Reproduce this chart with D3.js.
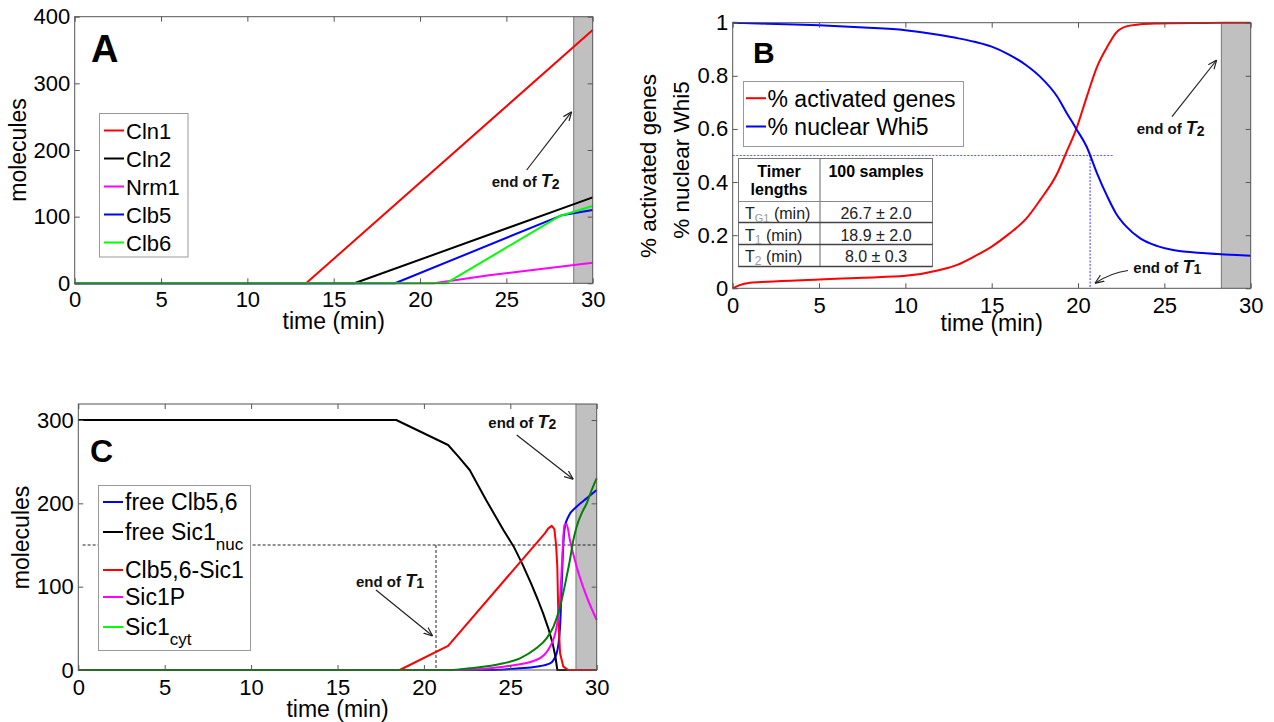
<!DOCTYPE html>
<html>
<head>
<meta charset="utf-8">
<title>Timer model panels A-C</title>
<style>
  body { margin: 0; background: #fff; }
  svg { display: block; font-family: "Liberation Sans", Arial, sans-serif; }
</style>
</head>
<body>
<script src="https://d3js.org/d3.v7.min.js"></script>
<svg width="1274" height="722"></svg>
<script>
// ---------- values ----------
const xTicks  = [0, 5, 10, 15, 20, 25, 30];
const yTicksA = [0, 100, 200, 300, 400];
const yTicksB = [0, 0.2, 0.4, 0.6, 0.8, 1];
const yTicksC = [0, 100, 200, 300];

// panel A (molecules)
const cln1T = [0, 13.4, 30],            cln1V = [0, 0, 380];
const cln2T = [0, 16.2, 30],            cln2V = [0, 0, 129];
const nrm1T = [0, 20.8, 24, 30],        nrm1V = [0, 0, 12, 31];
const clb5T = [0, 18.55, 28.2, 30],     clb5V = [0, 0, 102, 110];
const clb6T = [0, 21.5, 28.1, 30],      clb6V = [0, 0, 101, 116];

// panel B (fractions)
const timeB  = [0, 0.4, 1, 2, 5, 7.6, 10, 12, 13, 14, 15, 16, 17, 17.8, 18.8, 19.3, 19.9, 20.5, 21.1, 21.7, 22.2, 22.8, 23.6, 24.6, 25.5, 27.4, 30];
const genesB = [0, 0.012, 0.021, 0.025, 0.033, 0.04, 0.047, 0.069, 0.088, 0.12, 0.157, 0.205, 0.262, 0.332, 0.433, 0.508, 0.6, 0.72, 0.834, 0.91, 0.962, 0.986, 0.994, 0.997, 0.998, 0.999, 1.0];
const whi5B  = [1.0, 0.999, 0.998, 0.996, 0.99, 0.982, 0.972, 0.954, 0.942, 0.928, 0.91, 0.88, 0.84, 0.797, 0.721, 0.665, 0.6, 0.533, 0.433, 0.345, 0.282, 0.232, 0.188, 0.159, 0.144, 0.132, 0.123];

// panel C (molecules)
const fClbT  = [0, 24, 25.5, 26.5, 27.3, 27.68, 27.88, 27.97, 28.07, 28.16, 28.36, 28.84, 29.42, 30];
const fClbV  = [0, 0, 2, 4, 8, 20, 52, 100, 152, 172, 184, 196, 206, 216];
const fSicT  = [0, 18.4, 21.4, 22, 22.65, 23.1, 23.6, 24.1, 24.6, 25.2, 25.7, 26.2, 26.6, 26.9, 27.2, 27.45, 27.62, 27.72, 30];
const fSicV  = [300, 300, 270, 256, 240, 223, 204, 186, 168, 148, 127, 104, 84, 68, 50, 32, 15, 0, 0];
const cplxT  = [0, 18.6, 21.4, 27.0, 27.2, 27.4, 27.55, 27.65, 27.72, 27.78, 27.88, 28.07, 28.36, 30];
const cplxV  = [0, 0, 29, 164, 170, 173, 169, 150, 124, 64, 20, 4, 0, 0];
const sicPT  = [0, 22, 24.6, 26.5, 27.3, 27.68, 27.88, 28.03, 28.13, 28.26, 28.45, 28.84, 29.42, 30];
const sicPV  = [0, 0, 4, 12, 28, 52, 84, 144, 174, 175, 156, 124, 88, 60];
const cytT   = [0, 21.5, 22.65, 24.6, 25.56, 26.5, 27.1, 27.5, 27.88, 28.26, 28.45, 28.65, 28.84, 29.13, 29.42, 29.71, 30];
const cytV   = [0, 0, 2, 8, 14, 26, 38, 52, 76, 112, 132, 156, 172, 188, 200, 216, 230];

// table in panel B
const timerSubs  = ["G1", "1", "2"];
const timerMeans = ["26.7 \u00b1 2.0", "18.9 \u00b1 2.0", "8.0 \u00b1 0.3"];

// ---------- drawing ----------
const svg = d3.select("svg");
const FONT = '"Liberation Sans", Arial, sans-serif';

svg.append("defs").append("marker")
  .attr("id", "arr").attr("viewBox", "0 0 10 10")
  .attr("refX", 10).attr("refY", 5)
  .attr("markerWidth", 9).attr("markerHeight", 9)
  .attr("markerUnits", "userSpaceOnUse").attr("orient", "auto")
  .append("path").attr("d", "M0,1 L10,5 L0,9")
  .attr("fill", "none").attr("stroke", "#222").attr("stroke-width", 1.3);

function makePanel(l, r, b, t, yMax) {
  return {
    l, r, b, t,
    x: d3.scaleLinear().domain([0, 30]).range([l, r]),
    y: d3.scaleLinear().domain([0, yMax]).range([b, t])
  };
}

const pA = makePanel(74.7, 592.7, 283.3, 16.7, 400);
const pB = makePanel(732.7, 1250.7, 288.3, 22.7, 1);
const pC = makePanel(78.3, 596.7, 670, 404, 319.2);

function band(p, from) {
  svg.append("rect")
    .attr("x", p.x(from)).attr("y", p.t)
    .attr("width", p.x(30) - p.x(from)).attr("height", p.b - p.t)
    .attr("fill", "#c0c0c0");
  svg.append("line")
    .attr("x1", p.x(from)).attr("x2", p.x(from))
    .attr("y1", p.t).attr("y2", p.b)
    .attr("stroke", "#777").attr("stroke-width", 1);
}

function frame(p, yTicks, padX) {
  const fmt = d => String(d);
  const bottom = svg.append("g").attr("transform", "translate(0," + p.b + ")")
    .call(d3.axisBottom(p.x).tickValues(xTicks).tickSize(-5).tickSizeOuter(0).tickPadding(padX).tickFormat(fmt));
  const top = svg.append("g").attr("transform", "translate(0," + p.t + ")")
    .call(d3.axisTop(p.x).tickValues(xTicks).tickSize(-5).tickSizeOuter(0).tickFormat(""));
  const left = svg.append("g").attr("transform", "translate(" + p.l + ",0)")
    .call(d3.axisLeft(p.y).tickValues(yTicks).tickSize(-5).tickSizeOuter(0).tickPadding(4.5).tickFormat(fmt));
  const right = svg.append("g").attr("transform", "translate(" + p.r + ",0)")
    .call(d3.axisRight(p.y).tickValues(yTicks).tickSize(-5).tickSizeOuter(0).tickFormat(""));
  [bottom, top, left, right].forEach(g => {
    g.attr("font-family", FONT).attr("font-size", 22);
    g.select(".domain").remove();
    g.selectAll(".tick line").attr("stroke", "#555");
    g.selectAll(".tick text").attr("fill", "#000");
  });
  svg.append("rect")
    .attr("x", p.l).attr("y", p.t)
    .attr("width", p.r - p.l).attr("height", p.b - p.t)
    .attr("fill", "none").attr("stroke", "#555").attr("stroke-width", 1);
}

function series(p, T, V, color, curve) {
  const line = d3.line()
    .x((d, i) => p.x(T[i]))
    .y((d, i) => p.y(V[i]))
    .curve(curve || d3.curveLinear);
  svg.append("path").datum(V)
    .attr("d", line)
    .attr("fill", "none").attr("stroke", color)
    .attr("stroke-width", 2).attr("stroke-linejoin", "round");
}

function label(x, y, txt, size, opts) {
  opts = opts || {};
  const t = svg.append("text")
    .attr("font-size", size).attr("fill", "#000")
    .attr("text-anchor", opts.anchor || "start")
    .attr("font-weight", opts.bold ? "bold" : "normal");
  if (opts.rotate) t.attr("transform", "translate(" + x + "," + y + ") rotate(-90)");
  else t.attr("x", x).attr("y", y);
  t.text(txt);
  return t;
}

function endOf(x, y, sub) {
  const t = svg.append("text").attr("x", x).attr("y", y)
    .attr("font-weight", "bold").attr("font-size", 15).attr("fill", "#111");
  t.append("tspan").text("end of ");
  t.append("tspan").attr("font-style", "italic").attr("font-size", 18).text("T");
  t.append("tspan").attr("font-size", 14).attr("dy", 1.5).text(sub);
}

function arrow(x1, y1, x2, y2) {
  svg.append("line")
    .attr("x1", x1).attr("y1", y1).attr("x2", x2).attr("y2", y2)
    .attr("stroke", "#222").attr("stroke-width", 1.2)
    .attr("marker-end", "url(#arr)");
}

function legend(x, y, w, h) {
  svg.append("rect").attr("x", x).attr("y", y).attr("width", w).attr("height", h)
    .attr("fill", "#fff").attr("stroke", "#999").attr("stroke-width", 1);
}

function swatch(x1, x2, y, color) {
  svg.append("line").attr("x1", x1).attr("x2", x2).attr("y1", y).attr("y2", y)
    .attr("stroke", color).attr("stroke-width", 2);
}

// ===== Panel A =====
band(pA, 28.9);
series(pA, cln1T, cln1V, "#ff0000");
series(pA, cln2T, cln2V, "#000000");
series(pA, nrm1T, nrm1V, "#ff00ff");
series(pA, clb5T, clb5V, "#0000ff");
series(pA, clb6T, clb6V, "#00ff00");
frame(pA, yTicksA, 7.8);
label(91, 61.7, "A", 38, { bold: true });
label(333.7, 329, "time (min)", 23, { anchor: "middle" });
label(25.5, 150, "molecules", 23, { anchor: "middle", rotate: true });
legend(99.5, 113.5, 88.5, 143.5);
[["Cln1", "#ff0000"], ["Cln2", "#000000"], ["Nrm1", "#ff00ff"], ["Clb5", "#0000ff"], ["Clb6", "#00ff00"]]
  .forEach((e, i) => {
    const base = 138.5 + i * 28;
    swatch(104, 124, base - 8, e[1]);
    label(126, base, e[0], 22);
  });
endOf(491.7, 187.3, "2");
arrow(526.7, 170, 571.7, 111.7);

// ===== Panel B =====
band(pB, 28.3);
// dotted guide at 50 %
svg.append("path")
  .attr("d", "M" + pB.x(0) + "," + pB.y(0.5) + "H" + pB.x(22) +
             "M" + pB.x(20.7) + "," + pB.y(0.5) + "V" + pB.y(0))
  .attr("fill", "none").attr("stroke", "#5a5aff").attr("stroke-width", 1.2)
  .attr("stroke-dasharray", "2,1.5");
series(pB, timeB, genesB, "#ff0000", d3.curveMonotoneX);
series(pB, timeB, whi5B, "#0000ff", d3.curveMonotoneX);
frame(pB, yTicksB, 9.4);
label(753, 63.3, "B", 30, { bold: true });
label(991.7, 331, "time (min)", 23, { anchor: "middle" });
label(656, 166, "% activated genes", 22.5, { anchor: "middle", rotate: true });
label(689, 160, "% nuclear Whi5", 22.5, { anchor: "middle", rotate: true });
legend(743.5, 81.5, 220, 65);
[["% activated genes", "#ff0000"], ["% nuclear Whi5", "#0000ff"]].forEach((e, i) => {
  const base = 106.7 + i * 28.3;
  swatch(746, 766, base - 8.5, e[1]);
  label(767.5, base, e[0], 23);
});

// timer table
const tb = svg.append("g");
tb.append("rect").attr("x", 738.5).attr("y", 158.5).attr("width", 194).attr("height", 108)
  .attr("fill", "#fff").attr("stroke", "#777").attr("stroke-width", 1);
tb.append("line").attr("x1", 820).attr("x2", 820).attr("y1", 158.5).attr("y2", 266.5)
  .attr("stroke", "#666");
tb.append("line").attr("x1", 738.5).attr("x2", 932.5).attr("y1", 201.5).attr("y2", 201.5)
  .attr("stroke", "#888");
[222.5, 244.5, 266.5].forEach(yy => {
  tb.append("line").attr("x1", 738.5).attr("x2", 932.5).attr("y1", yy).attr("y2", yy)
    .attr("stroke", "#444").attr("stroke-width", 1.5);
});
label(779, 176.5, "Timer", 16, { anchor: "middle", bold: true });
label(779, 195, "lengths", 16, { anchor: "middle", bold: true });
label(876, 176.5, "100 samples", 16, { anchor: "middle", bold: true });
[219, 240.5, 261.5].forEach((base, i) => {
  const t = tb.append("text").attr("x", 745).attr("y", base)
    .attr("font-size", 16).attr("fill", "#222");
  t.append("tspan").text("T");
  t.append("tspan").attr("font-size", i === 0 ? 11 : 12).attr("fill", "#999").attr("dy", 3).text(timerSubs[i]);
  t.append("tspan").attr("dy", -3).text(" (min)");
  tb.append("text").attr("x", 876).attr("y", base).attr("text-anchor", "middle")
    .attr("font-size", 16).attr("fill", "#222").text(timerMeans[i]);
});
endOf(1136.7, 134, "2");
arrow(1172, 116.7, 1216.7, 60);
endOf(1133.3, 272.5, "1");
svg.append("path").attr("d", "M1128,270.5 Q1110,273 1095,283.3")
  .attr("fill", "none").attr("stroke", "#222").attr("stroke-width", 1.2)
  .attr("marker-end", "url(#arr)");

// ===== Panel C =====
band(pC, 28.8);
svg.append("path")
  .attr("d", "M" + pC.x(0.25) + "," + pC.y(150) + "H" + pC.x(30) +
             "M" + pC.x(20.7) + "," + pC.y(150) + "V" + pC.y(0))
  .attr("fill", "none").attr("stroke", "#222").attr("stroke-width", 1)
  .attr("stroke-dasharray", "3,2");
series(pC, fClbT, fClbV, "#0000ff", d3.curveMonotoneX);
series(pC, fSicT, fSicV, "#000000");
series(pC, cplxT, cplxV, "#ff0000");
series(pC, sicPT, sicPV, "#ff00ff", d3.curveMonotoneX);
series(pC, cytT, cytV, "#008000", d3.curveMonotoneX);
frame(pC, yTicksC, 9.4);
label(90, 461.7, "C", 32, { bold: true });
label(337.5, 717, "time (min)", 23, { anchor: "middle" });
label(29.3, 537.5, "molecules", 23, { anchor: "middle", rotate: true });
legend(98.5, 485.5, 152, 165);
const legC = [
  { main: "free Clb5,6", sub: "", color: "#0000ff", base: 510 },
  { main: "free Sic1", sub: "nuc", color: "#000000", base: 540 },
  { main: "Clb5,6-Sic1", sub: "", color: "#ff0000", base: 578 },
  { main: "Sic1P", sub: "", color: "#ff00ff", base: 605 },
  { main: "Sic1", sub: "cyt", color: "#00ff00", base: 635 }
];
legC.forEach(e => {
  swatch(103, 123, e.base - 8, e.color);
  const t = label(125, e.base, e.main, 23);
  if (e.sub) t.append("tspan").attr("font-size", 17).attr("dy", 10).text(e.sub);
});
endOf(488.3, 427.5, "2");
arrow(516.7, 435, 573.3, 479.3);
endOf(356, 586.5, "1");
arrow(376, 590, 432.7, 636);
</script>
</body>
</html>
